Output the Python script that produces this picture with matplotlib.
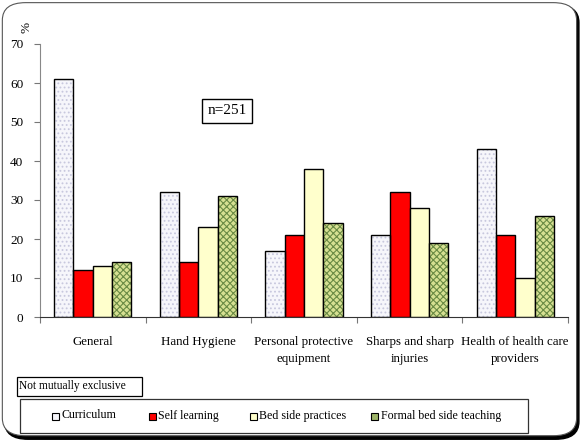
import numpy as np
import matplotlib
matplotlib.use("Agg")
import matplotlib.pyplot as plt
from matplotlib.patches import FancyBboxPatch, Rectangle

plt.rcParams['font.family'] = ['Liberation Serif', 'DejaVu Serif']
plt.rcParams['hatch.linewidth'] = 0.8

# --- data ---
categories = ["General", "Hand Hygiene", "Personal protective\nequipment",
              "Sharps and sharp\ninjuries", "Health of health care\nproviders"]
series_names = ["Curriculum", "Self learning", "Bed side practices", "Formal bed side teaching"]
curriculum = [61, 32, 17, 21, 43]
self_learning = [12, 14, 21, 32, 21]
bed_side = [13, 23, 38, 28, 10]
formal_teaching = [14, 31, 24, 19, 26]
y_ticks = [0, 10, 20, 30, 40, 50, 60, 70]

series = [curriculum, self_learning, bed_side, formal_teaching]
faces = ["#f6f6fb", "#ff0000", "#ffffcc", "#d6e092"]
hatches = ["....", None, None, "xxxxx"]
hatch_cols = ["#c8c8de", None, None, "#6a8a44"]
legend_faces = ["#f6f6fb", "#ff0000", "#ffffcc", "#9db468"]

fig = plt.figure(figsize=(5.83, 4.41), dpi=100)

# rounded frame with dark shadow (right / bottom)
shadow = FancyBboxPatch((0.008, 0.004), 0.985, 0.985, boxstyle="round,pad=0,rounding_size=0.04",
                        transform=fig.transFigure, facecolor="black", edgecolor="black", zorder=-2)
frame = FancyBboxPatch((0.004, 0.012), 0.985, 0.982, boxstyle="round,pad=0,rounding_size=0.04",
                       transform=fig.transFigure, facecolor="white", edgecolor="#555555",
                       linewidth=0.8, zorder=-1)
fig.patches.extend([shadow, frame])

ax = fig.add_axes([40 / 583, (441 - 317) / 441, 528 / 583, (317 - 44) / 441])
ax.set_facecolor("none")

x = np.arange(len(categories))
w = 0.183
offsets = (np.arange(4) - 1.5) * w
for i, vals in enumerate(series):
    if hatches[i]:
        ax.bar(x + offsets[i], vals, w, color=faces[i], hatch=hatches[i],
               edgecolor=hatch_cols[i], linewidth=0, zorder=2)
        ax.bar(x + offsets[i], vals, w, fill=False, edgecolor="black", linewidth=1.0, zorder=3)
    else:
        ax.bar(x + offsets[i], vals, w, color=faces[i], edgecolor="black", linewidth=1.0, zorder=2)

ax.set_xlim(-0.5, len(categories) - 0.5)
ax.set_ylim(0, 70)
ax.set_yticks(y_ticks)
ax.set_yticklabels([str(t) for t in y_ticks], fontsize=9.5)
ax.set_xticks(np.arange(len(categories) + 1) - 0.5)
ax.set_xticklabels([])
ax.tick_params(axis="x", direction="out", length=4, color="#777777")
ax.tick_params(axis="y", direction="out", length=4, color="#777777", pad=8)
for c, lab in zip(x, categories):
    ax.text(c, -4.8, lab, ha="center", va="top", fontsize=9.3, linespacing=1.6)

for s in ["top", "right"]:
    ax.spines[s].set_visible(False)
ax.spines["left"].set_color("#888888")
ax.spines["bottom"].set_color("#333333")

fig.text(27 / 583, 1 - 27 / 441, "%", rotation=90, ha="center", va="center", fontsize=9.5)

fig.text(227 / 583, 1 - 111 / 441, "n=251", ha="center", va="center", fontsize=11,
         bbox=dict(boxstyle="square,pad=0.33", facecolor="white", edgecolor="black", linewidth=1))

# note box
fig.patches.append(Rectangle((17 / 583, 1 - 396 / 441), 125 / 583, 19 / 441, transform=fig.transFigure,
                             facecolor="white", edgecolor="black", linewidth=0.9))
fig.text(19 / 583, 1 - 386.5 / 441, "Not mutually exclusive", ha="left", va="center", fontsize=8.3)

# legend box
fig.patches.append(Rectangle((20 / 583, 1 - 433 / 441), 508 / 583, 34 / 441, transform=fig.transFigure,
                             facecolor="white", edgecolor="#333333", linewidth=0.9))
leg_x = [55, 152, 253, 375]
for i, name in enumerate(series_names):
    mx = leg_x[i] / 583
    my = 1 - 420 / 441
    fig.patches.append(Rectangle((mx - 3.5 / 583, my), 7 / 583, 7.5 / 441, transform=fig.transFigure,
                                 facecolor=legend_faces[i], edgecolor="black", linewidth=0.8))
    fig.text(mx + 6 / 583, 1 - 415.5 / 441, name, ha="left", va="center", fontsize=8.6)

fig.savefig("out.png", dpi=100)
